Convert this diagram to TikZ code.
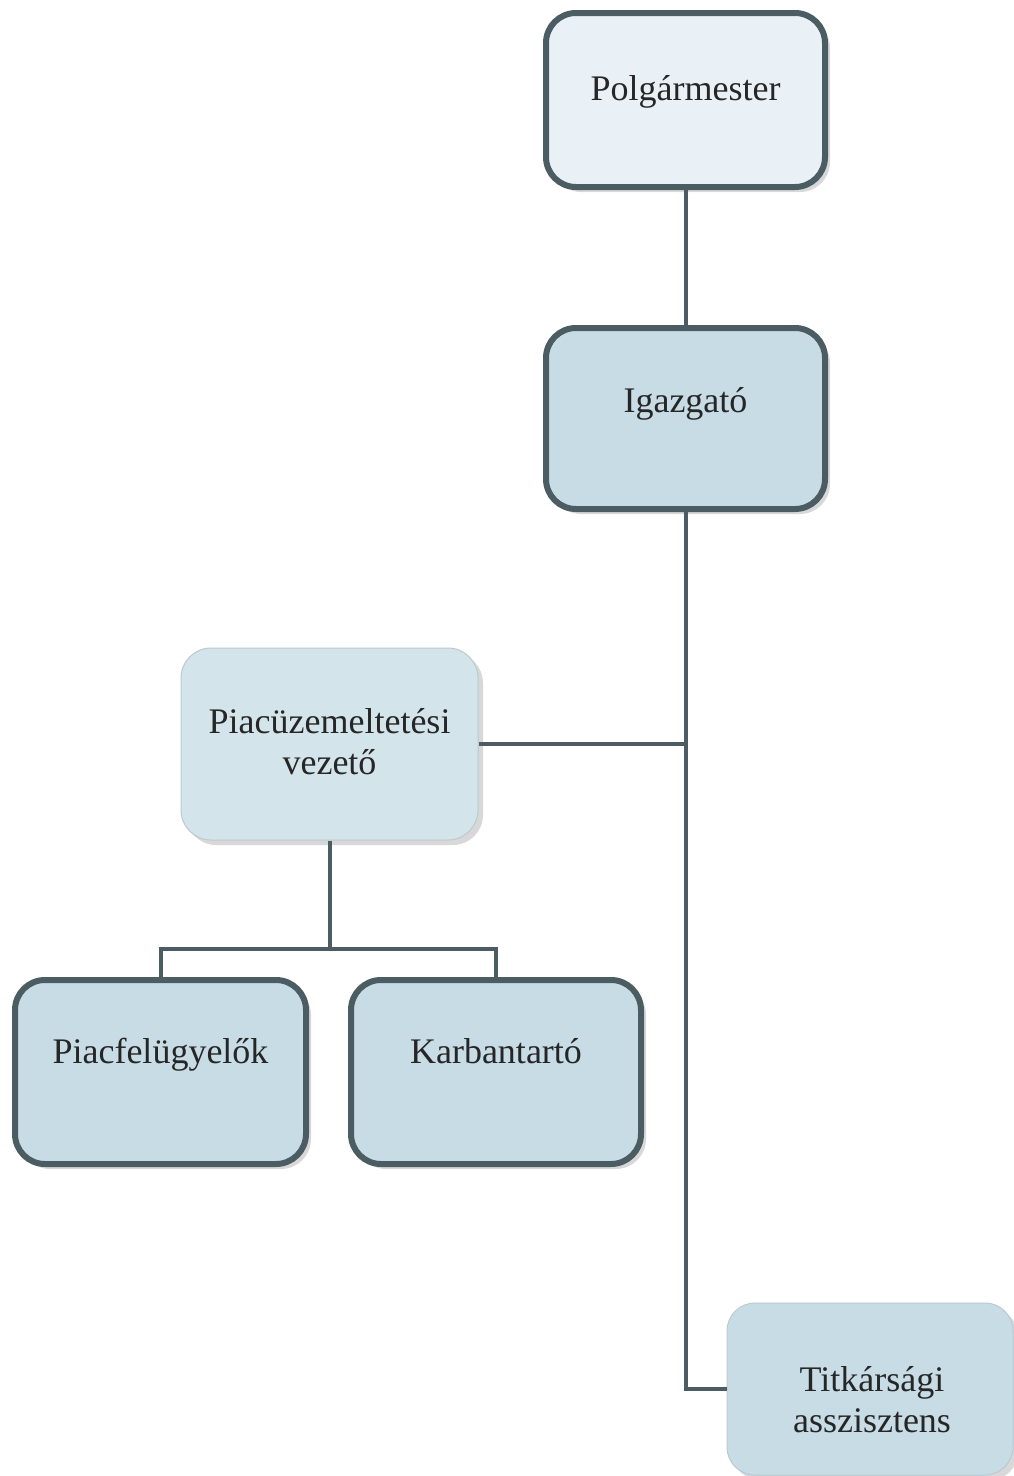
\documentclass[tikz,border=0pt]{standalone}
\usepackage{fontspec}
\setmainfont{Liberation Serif}
\usetikzlibrary{shadows}
\definecolor{edgecol}{HTML}{4B5D63}
\definecolor{fillpale}{HTML}{EAF1F6}
\definecolor{fillmid}{HTML}{C8DCE6}
\definecolor{fillsoft}{HTML}{D4E4EB}
\definecolor{thinedge}{HTML}{B9CAD2}
\tikzset{
  thickbox/.style={draw=edgecol, line width=6pt, rounded corners=30pt, fill=fillmid,
    drop shadow={shadow xshift=5pt, shadow yshift=-5pt, opacity=0.3, fill=gray}},
  softbox/.style={draw=thinedge, line width=1pt, rounded corners=30pt, fill=fillsoft,
    drop shadow={shadow xshift=5pt, shadow yshift=-5pt, opacity=0.3, fill=gray}},
  lbl/.style={font=\fontsize{36}{41}\selectfont, text=black!85, align=center, inner sep=0pt},
  conn/.style={draw=edgecol, line width=4pt}
}
\begin{document}
\begin{tikzpicture}[x=1pt,y=-1pt]
\useasboundingbox[fill=white] (0,0) rectangle (1014,1476);
% boxes
\node[thickbox, fill=fillpale, minimum width=279pt, minimum height=174pt] (pm) at (685.5,100) {};
\node[thickbox, minimum width=279pt, minimum height=181pt] (ig) at (685.5,418.5) {};
\node[softbox, minimum width=297pt, minimum height=192pt] (pv) at (329.5,744) {};
\node[thickbox, minimum width=291pt, minimum height=184pt] (pf) at (160.5,1072) {};
\node[thickbox, minimum width=290pt, minimum height=184pt] (kb) at (496,1072) {};
\node[softbox, fill=fillmid, rounded corners=28pt, minimum width=286pt, minimum height=172pt] (tk) at (870,1389) {};
% texts
\node[lbl, anchor=base] (pmt) at (685.5,100) {Polgármester};
\node[lbl, anchor=base] (igt) at (685.5,412) {Igazgató};
\node[lbl] (pvt) at (329.5,742) {Piacüzemeltetési\\vezető};
\node[lbl, anchor=base] (pft) at (160.5,1063) {Piacfelügyelők};
\node[lbl, anchor=base] (kbt) at (496,1063) {Karbantartó};
\node[lbl] (tkt) at (872,1400) {Titkársági\\asszisztens};
% connectors
\draw[conn] (pm.south) -- (ig.north);
\draw[conn] (ig.south) |- (tk.west);
\draw[conn] (pv.east) -- (pv.east -| ig.south);
\coordinate (jn) at ([yshift=-108pt]pv.south);
\draw[conn] (pv.south) -- (jn);
\draw[conn] (pf.north) |- (jn) -| (kb.north);
\end{tikzpicture}
\end{document}
